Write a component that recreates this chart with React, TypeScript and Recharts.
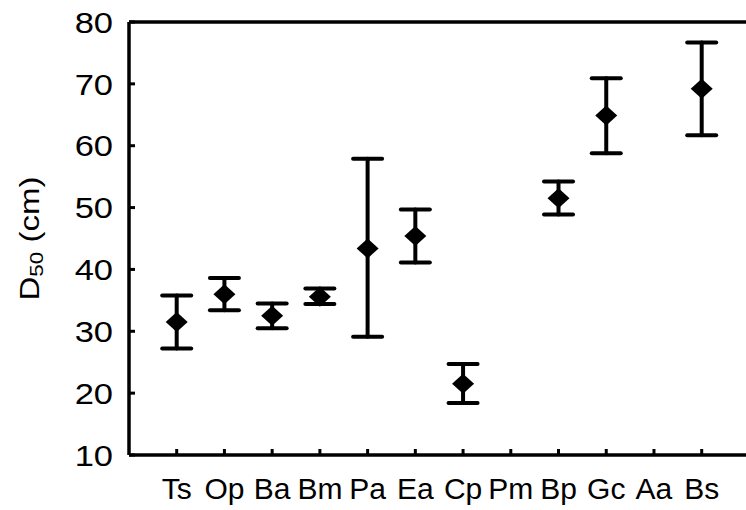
import React from 'react';
import { ComposedChart, Line, XAxis, YAxis, ErrorBar, ReferenceLine } from 'recharts';

const categories = ['Ts', 'Op', 'Ba', 'Bm', 'Pa', 'Ea', 'Cp', 'Pm', 'Bp', 'Gc', 'Aa', 'Bs'];
const means: (number | null)[] = [31.5, 36.0, 32.5, 35.6, 43.4, 45.4, 21.5, null, 51.5, 64.9, null, 69.2];
const upper: (number | null)[] = [35.8, 38.6, 34.5, 36.9, 57.9, 49.7, 24.7, null, 54.2, 70.9, null, 76.7];
const lower: (number | null)[] = [27.2, 33.4, 30.5, 34.4, 29.1, 41.1, 18.4, null, 48.9, 58.8, null, 61.7];
const yTicks = [10, 20, 30, 40, 50, 60, 70, 80];

const data = categories.map((name, i) => ({
  name,
  value: means[i],
  err: means[i] == null ? null : [(means[i] as number) - (lower[i] as number), (upper[i] as number) - (means[i] as number)],
}));

const FONT = '"Liberation Sans", Arial, sans-serif';
const Y_MARGIN = 16;
const X_MARGIN = 23;
const TICK_LEN = 6;
const STRETCH = 1.15;

const YTick = (props: any) => {
  const { x, y, payload } = props;
  return (
    <g>
      <line x1={x + Y_MARGIN} y1={y} x2={x + Y_MARGIN + TICK_LEN} y2={y} stroke="#000" strokeWidth={3} />
      <text
        transform={`translate(${x},${y}) scale(${STRETCH},1)`}
        x={0}
        y={0}
        dy="0.355em"
        textAnchor="end"
        fontSize={30}
        fontFamily={FONT}
        fill="#000"
      >
        {payload.value}
      </text>
    </g>
  );
};

const XTick = (props: any) => {
  const { x, y, payload } = props;
  return (
    <g>
      <line x1={x} y1={y - X_MARGIN} x2={x} y2={y - X_MARGIN - TICK_LEN} stroke="#000" strokeWidth={3} />
      <text
        x={x}
        y={y}
        dy="0.71em"
        textAnchor="middle"
        fontSize={30}
        fontFamily={FONT}
        fill="#000"
      >
        {payload.value}
      </text>
    </g>
  );
};

const Diamond = (props: any) => {
  const { cx, cy, index } = props;
  if (cx == null || cy == null || isNaN(cx) || isNaN(cy)) return <g key={`d${index}`} />;
  const w = 11;
  const h = 10;
  return (
    <polygon
      key={`d${index}`}
      points={`${cx},${cy - h} ${cx + w},${cy} ${cx},${cy + h} ${cx - w},${cy}`}
      fill="#000"
    />
  );
};

const YLabel = (props: any) => {
  const vb = props.viewBox || {};
  const cx = 29;
  const cy = (vb.y ?? 22) + (vb.height ?? 433) / 2;
  return (
    <text
      transform={`translate(${cx},${cy}) rotate(-90) scale(1.18,1)`}
      x={0}
      y={0}
      textAnchor="middle"
      dominantBaseline="central"
      fontSize={28}
      fontFamily={FONT}
      fill="#000"
    >
      D
      <tspan fontSize={19} dy="0.35em">50</tspan>
      <tspan dy="-0.24em"> (cm)</tspan>
    </text>
  );
};

export default function App() {
  return (
    <div style={{ position: 'fixed', left: 0, top: 0, width: 746, height: 510, overflow: 'hidden', background: '#fff' }}>
      <ComposedChart
        width={760}
        height={510}
        data={data}
        margin={{ top: 22, right: 10.6, bottom: 0, left: 0 }}
      >
        <XAxis
          dataKey="name"
          interval={0}
          height={55}
          padding={{ left: 47.7, right: 47.7 }}
          axisLine={{ stroke: '#000', strokeWidth: 3.5 }}
          tickLine={false}
          tickSize={0}
          tickMargin={X_MARGIN}
          tick={<XTick />}
        />
        <YAxis
          width={129}
          domain={[10, 80]}
          ticks={yTicks}
          allowDataOverflow
          axisLine={{ stroke: '#000', strokeWidth: 3.5 }}
          tickLine={false}
          tickSize={0}
          tickMargin={Y_MARGIN}
          tick={<YTick />}
          label={<YLabel />}
        />
        <ReferenceLine y={80} stroke="#000" strokeWidth={3.5} />
        <Line
          dataKey="value"
          stroke="none"
          isAnimationActive={false}
          dot={<Diamond />}
          activeDot={false}
          connectNulls={false}
        >
          <ErrorBar dataKey="err" direction="y" width={14.5} stroke="#000" strokeWidth={4} strokeLinecap="round" />
        </Line>
      </ComposedChart>
    </div>
  );
}
